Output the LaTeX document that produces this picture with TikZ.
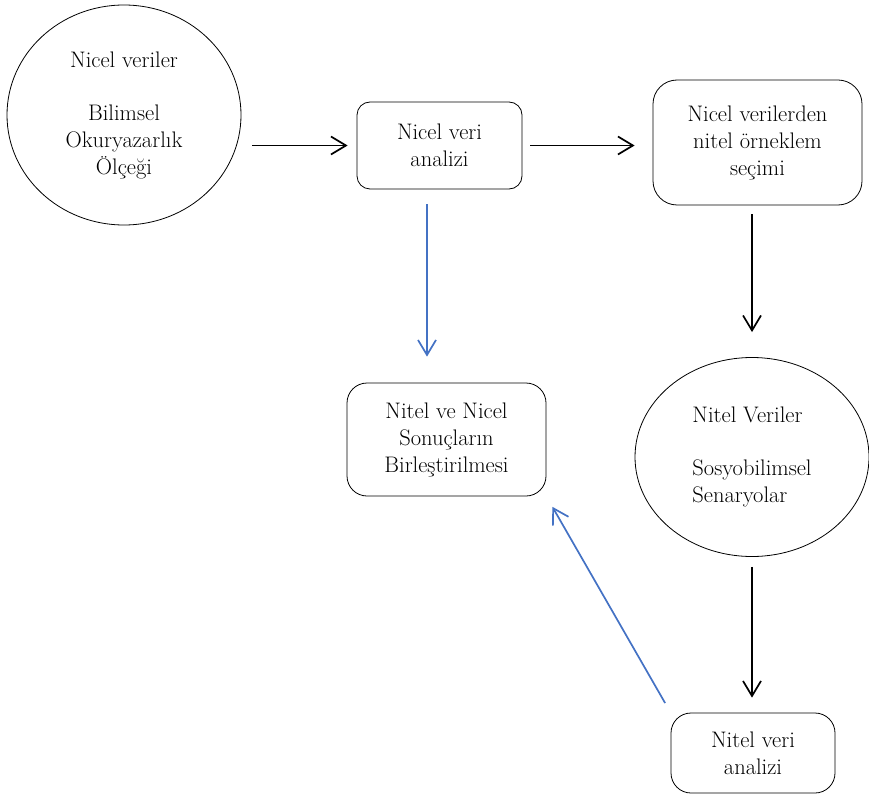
\documentclass[tikz,border=0pt]{standalone}
\usepackage{fontspec}
\usetikzlibrary{shapes.geometric, arrows.meta, positioning}
\definecolor{linkblue}{RGB}{68,114,196}

\begin{document}
\begin{tikzpicture}[x=1pt, y=-1pt,
        font=\fontsize{22.5}{27}\selectfont,
        oval/.style={draw, ellipse, line width=0.8pt, inner sep=0pt},
        kutu/.style={draw, rectangle, rounded corners=16pt, line width=0.8pt, align=center, inner sep=0pt},
        ok/.style={-{Straight Barb[length=15pt, width=18pt]}, line width=1.7pt},
        mavi/.style={ok, linkblue}]
        \useasboundingbox (0,0) rectangle (869,794);

        % nicel taraf
        \node[oval, minimum width=234pt, minimum height=220pt, align=center] (nicelveri) at (124,115)
            {Nicel veriler\\[26pt]Bilimsel\\Okuryazarlık\\Ölçeği};
        \node[kutu, minimum width=165pt, minimum height=87pt, rounded corners=13pt] (nicelanaliz) at (439.5,145.5)
            {Nicel veri\\analizi};
        \node[kutu, minimum width=209pt, minimum height=125pt, rounded corners=24pt] (orneklem) at (757.5,142.5)
            {Nicel verilerden\\nitel örneklem\\seçimi};

        % nitel taraf
        \node[oval, minimum width=234pt, minimum height=199pt, align=left] (nitelveri) at (752,457)
            {Nitel Veriler\\[26pt]Sosyobilimsel\\Senaryolar};
        \node[kutu, minimum width=164pt, minimum height=80pt, rounded corners=20pt] (nitelanaliz) at (753,753)
            {Nitel veri\\analizi};

        % birlestirme
        \node[kutu, minimum width=199pt, minimum height=113pt, rounded corners=20pt] (birlestirme) at (446.5,439.5)
            {Nitel ve Nicel\\Sonuçların\\Birleştirilmesi};

        % oklar
        \draw[ok, shorten <=11pt, shorten >=9pt] (nicelveri.east |- nicelanaliz.west) -- (nicelanaliz.west);
        \draw[ok, shorten <=8pt, shorten >=18pt] (nicelanaliz.east) -- (nicelanaliz.east -| orneklem.west);
        \draw[ok, shorten <=9pt, shorten >=25pt] (orneklem.south -| nitelveri.north) -- (nitelveri.north);
        \draw[ok, shorten <=10pt, shorten >=15pt] (nitelveri.south) -- (nitelveri.south |- nitelanaliz.north);
        \draw[mavi, shorten <=15pt, shorten >=26pt] ([xshift=-12.5pt]nicelanaliz.south) -- ([xshift=-12.5pt]nicelanaliz.south |- birlestirme.north);
        \draw[mavi, shorten <=11pt, shorten >=12pt] (nitelanaliz.north west) -- (birlestirme.south east);

\end{tikzpicture}
\end{document}
